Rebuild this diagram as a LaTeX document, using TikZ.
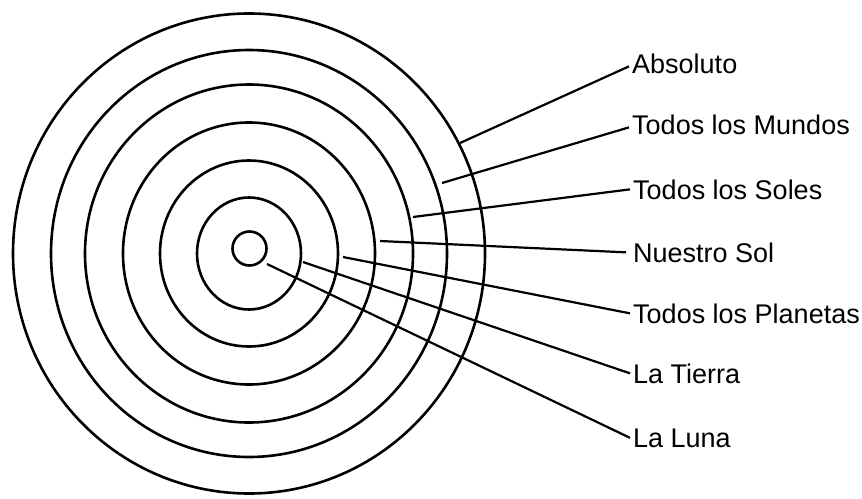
\documentclass[tikz,border=0pt]{standalone}
\usepackage{fontspec}
\setmainfont{Liberation Sans}
\begin{document}
\begin{tikzpicture}[x=1pt,y=-1pt,
  ring/.style={line width=2.6pt},
  leader/.style={line width=2.2pt},
  lbl/.style={anchor=base west, inner xsep=3pt, inner ysep=0pt, font=\fontsize{27}{31}\selectfont}]
\useasboundingbox (0,0) rectangle (862,498);
\coordinate (ctr) at (249,253.5);
\coordinate (ictr) at (249.5,248.5);
% rings
\draw[ring] (ctr) ellipse [x radius=236, y radius=240];
\draw[ring] (ctr) ellipse [x radius=198, y radius=203.5];
\draw[ring] (ctr) ellipse [x radius=164, y radius=169];
\draw[ring] (ctr) ellipse [x radius=126, y radius=131];
\draw[ring] (ctr) ellipse [x radius=89, y radius=93];
\draw[ring] (ctr) ellipse [x radius=52, y radius=56];
\draw[ring] (ictr) circle [radius=17];
% labels
\node[lbl] (tA) at (629,73) {Absoluto};
\node[lbl] (tM) at (629,134) {Todos los Mundos};
\node[lbl] (tS) at (630,199) {Todos los Soles};
\node[lbl] (tN) at (630,262) {Nuestro Sol};
\node[lbl] (tP) at (630,323) {Todos los Planetas};
\node[lbl] (tT) at (630,383) {La Tierra};
\node[lbl] (tL) at (630,447) {La Luna};
% leader starts
\coordinate (sA) at (460,143);
\coordinate (sM) at (442,183);
\coordinate (sS) at (413,217);
\coordinate (sN) at (380,241);
\coordinate (sP) at (343,257);
\coordinate (sT) at (303,262);
\coordinate (sL) at (267,264);
\draw[leader] (sA) -- ([yshift=-3pt]tA.west);
\draw[leader] (sM) -- ([yshift=-3pt]tM.west);
\draw[leader] (sS) -- (tS.west);
\draw[leader] (sN) -- ([xshift=-4pt]tN.west);
\draw[leader] (sP) -- (tP.west);
\draw[leader] (sT) -- (tT.west);
\draw[leader] (sL) -- (tL.west);
\end{tikzpicture}
\end{document}
